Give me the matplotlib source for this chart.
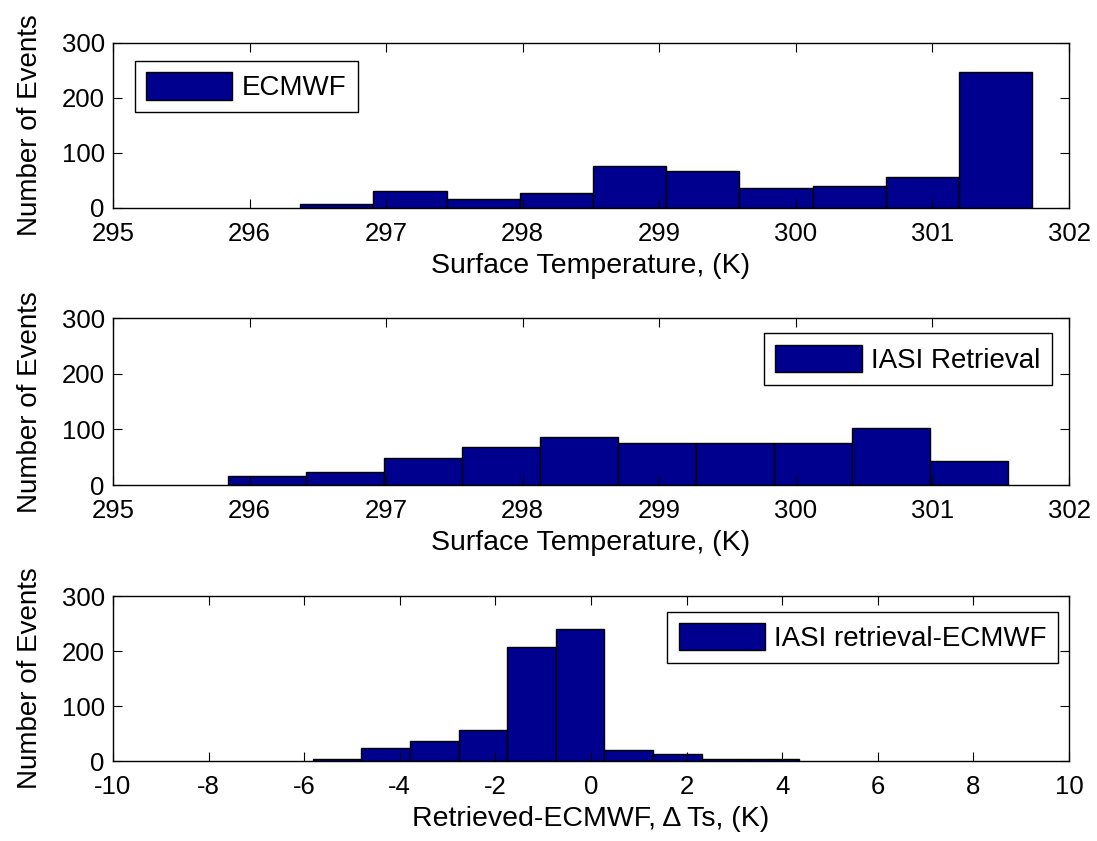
import numpy as np
import matplotlib
matplotlib.use("Agg")
import matplotlib.pyplot as plt

# histogram counts (10 bins each, MATLAB hist style)
ecmwf_counts = [7, 31, 16, 28, 76, 68, 36, 40, 56, 248]
ecmwf_range = (296.37, 301.73)

iasi_counts = [16, 24, 48, 68, 87, 75, 75, 75, 103, 44]
iasi_range = (295.84, 301.55)

diff_counts = [3, 24, 36, 56, 208, 240, 20, 12, 4, 4]
diff_range = (-5.82, 4.35)

temp_ticks = [295, 296, 297, 298, 299, 300, 301, 302]
diff_ticks = [-10, -8, -6, -4, -2, 0, 2, 4, 6, 8, 10]
y_ticks = [0, 100, 200, 300]

bar_color = "#00008F"

plt.rcParams["font.family"] = ["Liberation Sans", "DejaVu Sans"]
plt.rcParams["axes.unicode_minus"] = False


def histBars(ax, counts, rng, label):
    edges = np.linspace(rng[0], rng[1], len(counts) + 1)
    ax.bar(edges[:-1], counts, width=np.diff(edges), align="edge",
           color=bar_color, edgecolor="black", linewidth=1.0, label=label)


def styleAxes(ax, xticks, xlim, xlabel):
    ax.set_xlim(xlim)
    ax.set_ylim(0, 300)
    ax.set_xticks(xticks)
    ax.set_yticks(y_ticks)
    ax.tick_params(direction="in", top=True, right=True, length=6.5,
                   width=0.8, labelsize=18.5)
    ax.tick_params(axis="x", pad=10)
    ax.tick_params(axis="y", pad=6)
    for s in ax.spines.values():
        s.set_linewidth(1.0)
    ax.set_xlabel(xlabel, fontsize=20.5, labelpad=5)
    ax.set_ylabel("Number of Events", fontsize=20, labelpad=13)


def addLegend(ax, loc, anchor):
    leg = ax.legend(loc=loc, bbox_to_anchor=anchor, borderaxespad=0,
                    fontsize=20, handlelength=3.1, handleheight=1.15,
                    handletextpad=0.35, borderpad=0.4, fancybox=False,
                    framealpha=1, edgecolor="black")
    leg.get_frame().set_linewidth(1.0)


fig = plt.figure(figsize=(10.97, 8.41), dpi=100)
ax1 = fig.add_axes([0.103, 0.7527, 0.8715, 0.1962])
ax2 = fig.add_axes([0.103, 0.4233, 0.8715, 0.198])
ax3 = fig.add_axes([0.103, 0.0951, 0.8715, 0.1962])

histBars(ax1, ecmwf_counts, ecmwf_range, "ECMWF")
styleAxes(ax1, temp_ticks, (295, 302), "Surface Temperature, (K)")
addLegend(ax1, "upper left", (0.023, 0.891))

histBars(ax2, iasi_counts, iasi_range, "IASI Retrieval")
styleAxes(ax2, temp_ticks, (295, 302), "Surface Temperature, (K)")
addLegend(ax2, "upper right", (0.982, 0.91))

histBars(ax3, diff_counts, diff_range, "IASI retrieval-ECMWF")
styleAxes(ax3, diff_ticks, (-10, 10), "Retrieved-ECMWF, Δ Ts, (K)")
addLegend(ax3, "upper right", (0.9885, 0.905))

fig.savefig("out.png", dpi=100)
